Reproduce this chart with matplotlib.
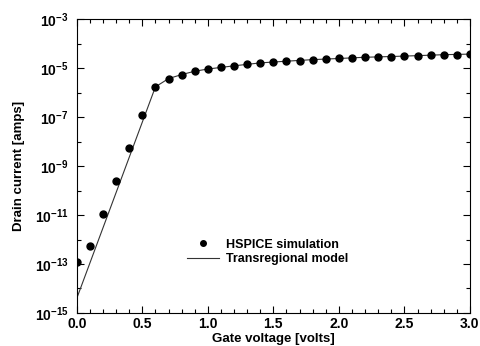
import matplotlib
matplotlib.use("Agg")
import matplotlib.pyplot as plt
import numpy as np
from matplotlib.ticker import FixedLocator, FuncFormatter
from matplotlib.legend_handler import HandlerLine2D

plt.rcParams['font.family'] = ['Liberation Sans', 'DejaVu Sans']
plt.rcParams['font.weight'] = 'bold'
plt.rcParams['mathtext.fontset'] = 'custom'
plt.rcParams['mathtext.rm'] = 'Liberation Sans:bold'
plt.rcParams['mathtext.it'] = 'Liberation Sans:bold'
plt.rcParams['mathtext.bf'] = 'Liberation Sans:bold'

# HSPICE simulation points
sim_v = [0.0, 0.1, 0.2, 0.3, 0.4, 0.5, 0.6, 0.7, 0.8, 0.9, 1.0, 1.1, 1.2, 1.3, 1.4, 1.5,
         1.6, 1.7, 1.8, 1.9, 2.0, 2.1, 2.2, 2.3, 2.4, 2.5, 2.6, 2.7, 2.8, 2.9, 3.0]
sim_i = [1.2e-13, 5.4e-13, 1.1e-11, 2.4e-10, 5.4e-9, 1.2e-7, 1.7e-6, 3.7e-6, 5.4e-6, 7.4e-6,
         9.1e-6, 1.07e-5, 1.23e-5, 1.44e-5, 1.62e-5, 1.73e-5,
         1.9e-5, 2.0e-5, 2.2e-5, 2.3e-5, 2.45e-5, 2.6e-5, 2.75e-5, 2.8e-5, 2.95e-5, 3.0e-5,
         3.2e-5, 3.3e-5, 3.5e-5, 3.55e-5, 3.7e-5]

# Transregional model curve
model_v = [0.0, 0.6, 0.7, 0.8, 0.9, 1.0, 1.2, 1.4, 1.6, 1.8, 2.0, 2.2, 2.4, 2.6, 2.8, 3.0]
model_i = [4e-15, 1.7e-6, 3.7e-6, 5.4e-6, 7.4e-6, 9.1e-6, 1.23e-5, 1.62e-5, 1.9e-5, 2.2e-5,
           2.45e-5, 2.75e-5, 2.95e-5, 3.2e-5, 3.5e-5, 3.7e-5]

x_major = [0.0, 0.5, 1.0, 1.5, 2.0, 2.5, 3.0]
y_major_exp = [-15, -13, -11, -9, -7, -5, -3]


class RightMarkerHandler(HandlerLine2D):
    def get_xdata(self, legend, xdescent, ydescent, width, height, fontsize):
        xdata = np.array([-xdescent, -xdescent + width], float)
        xdata_marker = np.array([-xdescent + 0.88 * width], float)
        return xdata, xdata_marker


fig = plt.figure(figsize=(4.8, 3.46), dpi=100)
ax = fig.add_axes([0.160, 0.0954, 0.819, 0.8496])

line, = ax.plot(model_v, model_i, color='#333333', lw=0.8, label='Transregional model')
dots, = ax.plot(sim_v, sim_i, 'o', color='black', ms=5, label='HSPICE simulation')

ax.set_yscale('log')
ax.set_xlim(0, 3.0)
ax.set_ylim(1e-15, 1e-3)

ax.xaxis.set_major_locator(FixedLocator(x_major))
ax.xaxis.set_minor_locator(FixedLocator(np.arange(0, 3.01, 0.1)))
ax.xaxis.set_major_formatter(FuncFormatter(lambda v, p: f"{v:.1f}"))
ax.yaxis.set_major_locator(FixedLocator([10.0**e for e in y_major_exp]))
ax.yaxis.set_minor_locator(FixedLocator([10.0**e for e in range(-14, -3, 2)]))
ax.yaxis.set_major_formatter(FuncFormatter(lambda v, p: r"$10^{%d}$" % round(np.log10(v))))
ax.yaxis.set_minor_formatter(FuncFormatter(lambda v, p: ""))

ax.tick_params(which='both', direction='in', top=True, right=True, labelsize=10, width=0.8)
ax.tick_params(which='major', length=5)
ax.tick_params(axis='x', which='major', pad=3)
ax.tick_params(axis='y', which='major', pad=6)
ax.tick_params(which='minor', length=3)
for lab in ax.get_xticklabels() + ax.get_yticklabels():
    lab.set_fontweight('bold')
for s in ax.spines.values():
    s.set_linewidth(0.8)

ax.set_xlabel('Gate voltage [volts]', fontsize=9.5, fontweight='bold', labelpad=1)
ax.set_ylabel('Drain current [amps]', fontsize=9.5, fontweight='bold', labelpad=7)

ax.legend([dots, line], ['HSPICE simulation', 'Transregional model'],
          loc='upper left', bbox_to_anchor=(0.258, 0.283),
          frameon=False, handlelength=2.6, handletextpad=0.5,
          labelspacing=0.2, markerscale=0.8, borderpad=0.2,
          prop={'weight': 'bold', 'size': 9},
          handler_map={dots: RightMarkerHandler()})

fig.savefig('out.png', dpi=100)
